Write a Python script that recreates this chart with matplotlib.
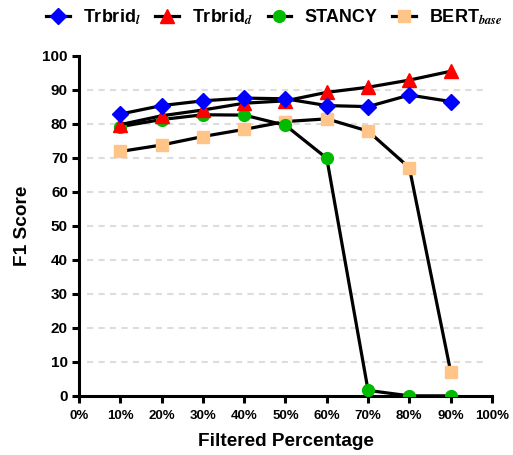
import numpy as np
import matplotlib.pyplot as plt

plt.rcParams["font.family"] = ["Liberation Sans", "DejaVu Sans"]
plt.rcParams["font.weight"] = "bold"
plt.rcParams["mathtext.fontset"] = "stix"

pct = [10, 20, 30, 40, 50, 60, 70, 80, 90]
trbrid_l = [82.9, 85.4, 86.8, 87.6, 87.4, 85.4, 85.1, 88.5, 86.6]
trbrid_d = [79.8, 82.4, 84.1, 86.1, 86.8, 89.3, 90.8, 92.9, 95.5]
stancy = [79.2, 81.3, 82.7, 82.6, 79.6, 69.9, 1.6, 0.0, 0.0]
bert = [71.9, 73.8, 76.3, 78.4, 80.7, 81.5, 77.9, 67.1, 7.1]

grid_levels = [10, 20, 30, 40, 50, 60, 70, 80, 90]
xticks = list(range(0, 101, 10))
yticks = list(range(0, 101, 10))

fig = plt.figure(figsize=(5.13, 4.55), dpi=100)
ax = fig.add_axes([0.154, 0.13, 0.805, 0.747])

ax.hlines(grid_levels, 2, 99, colors="#dddddd", linestyles=(0, (3, 2.5)), lw=1.5, zorder=0)

lw = 2.3
ax.plot(pct, trbrid_l, "-", color="black", lw=lw, marker="D", ms=8.5,
        mfc="#0000ff", mec="#0000ff", label=r"Trbrid$_{\mathit{l}}$", zorder=5)
ax.plot(pct, trbrid_d, "-", color="black", lw=lw, marker="^", ms=10,
        mfc="#ff0000", mec="#ff0000", label=r"Trbrid$_{\mathit{d}}$", zorder=4)
ax.plot(pct, stancy, "-", color="black", lw=lw, marker="o", ms=8.5,
        mfc="#00bb00", mec="#00bb00", label="STANCY", zorder=3)
ax.plot(pct, bert, "-", color="black", lw=lw, marker="s", ms=8.5,
        mfc="#ffc487", mec="#ffc487", label=r"BERT$_{\mathit{base}}$", zorder=2)

ax.set_xlim(0, 100)
ax.set_ylim(0, 100)
ax.set_xticks(xticks)
ax.set_xticklabels([f"{t}%" for t in xticks])
ax.set_yticks(yticks)
ax.tick_params(width=2.2, length=5)
ax.tick_params(axis="x", labelsize=9.5, pad=5)
ax.tick_params(axis="y", labelsize=11, pad=3)
for s in ["top", "right"]:
    ax.spines[s].set_visible(False)
for s in ["left", "bottom"]:
    ax.spines[s].set_linewidth(2.2)

ax.set_xlabel("Filtered Percentage", fontsize=13.7, fontweight="bold", labelpad=8)
ax.set_ylabel("F1 Score", fontsize=13.7, fontweight="bold", labelpad=8)

fig.legend(loc="upper center", bbox_to_anchor=(0.535, 1.02), ncol=4, frameon=False,
           fontsize=13, handlelength=1.3, columnspacing=0.8, handletextpad=0.75)

fig.savefig("out.png", dpi=100)
